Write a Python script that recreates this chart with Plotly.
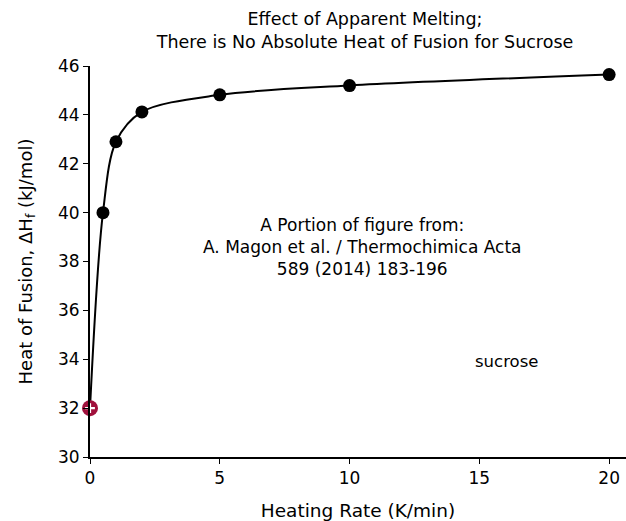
import plotly.graph_objects as go

# Heating rate (K/min) and measured heat of fusion (kJ/mol)
heating_rate = [0.5, 1, 2, 5, 10, 20]
heat_of_fusion = [40.0, 42.9, 44.12, 44.82, 45.2, 45.65]

# Extrapolated value at zero heating rate
zero_rate = [0]
zero_value = [32.0]

x_ticks = [0, 5, 10, 15, 20]
y_ticks = [30, 32, 34, 36, 38, 40, 42, 44, 46]

FONT = "DejaVu Sans"

fig = go.Figure()

# Smooth curve through all points, starting at the extrapolated zero-rate value
fig.add_trace(go.Scatter(
    x=zero_rate + heating_rate,
    y=zero_value + heat_of_fusion,
    mode="lines",
    line=dict(color="black", width=2, shape="spline", smoothing=0.9),
    hoverinfo="skip", cliponaxis=False,
))

fig.add_trace(go.Scatter(
    x=heating_rate, y=heat_of_fusion, mode="markers",
    marker=dict(color="black", size=13, line=dict(width=0)),
    cliponaxis=False,
))

# Zero-rate point: crimson disc with a white plus
fig.add_trace(go.Scatter(
    x=zero_rate, y=zero_value, mode="markers",
    marker=dict(color="#a0103c", size=16, line=dict(width=0)),
    cliponaxis=False,
))
fig.add_trace(go.Scatter(
    x=zero_rate, y=zero_value, mode="markers",
    marker=dict(symbol="cross-thin", size=7, color="white",
                line=dict(color="white", width=2.2)),
    cliponaxis=False,
))

fig.update_layout(
    width=626, height=521,
    margin=dict(l=90, r=0, t=66, b=64),
    paper_bgcolor="white", plot_bgcolor="white",
    showlegend=False,
    font=dict(family=FONT, color="black", size=16),
    title=dict(
        text="Effect of Apparent Melting;<br>There is No Absolute Heat of Fusion for Sucrose",
        x=365 / 626, xanchor="center", y=1 - 25 / 521, yanchor="middle",
        font=dict(size=17.5),
    ),
    xaxis=dict(
        range=[0, 20.65], tickvals=x_ticks, ticks="outside", ticklen=5,
        tickcolor="black", showline=True, linecolor="black", linewidth=2,
        showgrid=False, zeroline=False, tickfont=dict(size=17),
        title=dict(text="Heating Rate (K/min)", font=dict(size=18.5), standoff=17),
    ),
    yaxis=dict(
        range=[30, 46], tickvals=y_ticks, ticks="outside", ticklen=5,
        tickcolor="black", showline=True, linecolor="black", linewidth=2,
        showgrid=False, zeroline=False, tickfont=dict(size=17),
        title=dict(text="Heat of Fusion, ΔH<sub>f</sub> (kJ/mol)", font=dict(size=18), standoff=21),
    ),
    annotations=[
        dict(text="A Portion of figure from:<br>A. Magon et al. / Thermochimica Acta<br>589 (2014) 183-196",
             x=10.5, y=38.6, xref="x", yref="y", showarrow=False,
             font=dict(size=17), align="center"),
        dict(text="sucrose", x=16.06, y=33.9, xref="x", yref="y", showarrow=False,
             font=dict(size=16.5)),
    ],
)

fig.write_html("out.html")
